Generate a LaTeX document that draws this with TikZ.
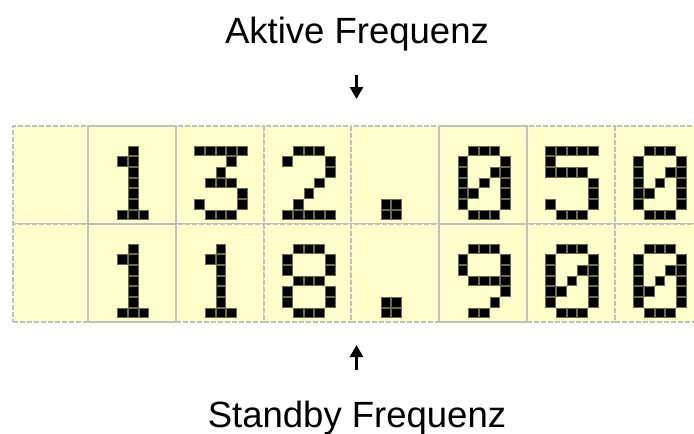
\documentclass[tikz,border=0pt]{standalone}
\usepackage{fontspec}
\setmainfont{Liberation Sans}
\usepackage{xstring}
\usetikzlibrary{arrows.meta}

\definecolor{lcdbg}{HTML}{FFFFCC}
\definecolor{lcdline}{HTML}{C0C0C0}
\definecolor{pixedge}{HTML}{6A6A50}

% 5x7 Punktmatrix, eine Zeile pro Eintrag
\expandafter\def\csname lcd0\endcsname{01110,10001,10011,10101,11001,10001,01110}
\expandafter\def\csname lcd1\endcsname{00100,01100,00100,00100,00100,00100,01110}
\expandafter\def\csname lcd2\endcsname{01110,10001,00001,00010,00100,01000,11111}
\expandafter\def\csname lcd3\endcsname{11111,00010,00100,01110,00001,10001,01110}
\expandafter\def\csname lcd5\endcsname{11111,10000,11110,00001,00001,10001,01110}
\expandafter\def\csname lcd8\endcsname{01110,10001,10001,01110,10001,10001,01110}
\expandafter\def\csname lcd9\endcsname{01110,10001,10001,01111,00001,00010,01100}
\expandafter\def\csname lcddot\endcsname{00000,00000,00000,00000,00000,01100,01100}

\newcommand\lcddigit[3]{% x, y, Zeichen
  \edef\lcdbits{\csname lcd#3\endcsname}%
  \foreach \row [count=\r from 0] in \lcdbits {
    \foreach \c in {1,...,5} {
      \StrChar{\row}{\c}[\px]
      \if1\px
        \filldraw[pixel] ({#1+10.67*(\c-1)},{#2+10.67*\r}) rectangle ++(9.7,9.7);
      \fi
    }
  }}

\begin{document}
\begin{tikzpicture}[x=1pt, y=-1pt,
  cell/.style={draw=lcdline, fill=lcdbg, line width=2pt, dash pattern=on 5pt off 2pt,
    anchor=north west, minimum width=87.75pt, minimum height=98pt, inner sep=0pt, outer sep=0pt},
  solidframe/.style={draw=lcdline, line width=2pt},
  pixel/.style={fill=black, draw=pixedge, line width=0.6pt},
  lbl/.style={font=\fontsize{36.5}{40}\selectfont, inner sep=0pt, anchor=base},
  pointer/.style={line width=2.6pt, -{Triangle[length=12pt, width=13pt]}}]
  \useasboundingbox (0,0) rectangle (694,434);
  \clip (0,0) rectangle (694,434);

  % Anzeigefelder
  \foreach \r/\y in {1/126, 2/224} {
    \node[cell, minimum width=75pt] (c\r-1) at (13,\y) {};
    \foreach \k in {2,...,8}
      \node[cell] (c\r-\k) at ({88+87.75*(\k-2)},\y) {};
  }
  \foreach \n in {c1-2, c1-6, c2-2, c2-6}
    \draw[solidframe] (\n.north west) rectangle (\n.south east);

  % Ziffern
  \foreach \k/\d in {2/1, 3/3, 4/2, 5/dot, 6/0, 7/5, 8/0}
    \lcddigit{88+87.75*(\k-2)+19}{146}{\d};
  \foreach \k/\d in {2/1, 3/1, 4/8, 5/dot, 6/9, 7/0, 8/0}
    \lcddigit{88+87.75*(\k-2)+19}{244}{\d};

  % Beschriftung
  \node[lbl] (aktiv) at (357,43) {Aktive Frequenz};
  \node[lbl] (standby) at (357,427) {Standby Frequenz};
  \coordinate (aktiv-von) at (356.5,75);
  \coordinate (aktiv-nach) at (356.5,99);
  \coordinate (standby-von) at (356.5,370);
  \coordinate (standby-nach) at (356.5,345);
  \draw[pointer] (aktiv-von) -- (aktiv-nach);
  \draw[pointer] (standby-von) -- (standby-nach);
\end{tikzpicture}
\end{document}
